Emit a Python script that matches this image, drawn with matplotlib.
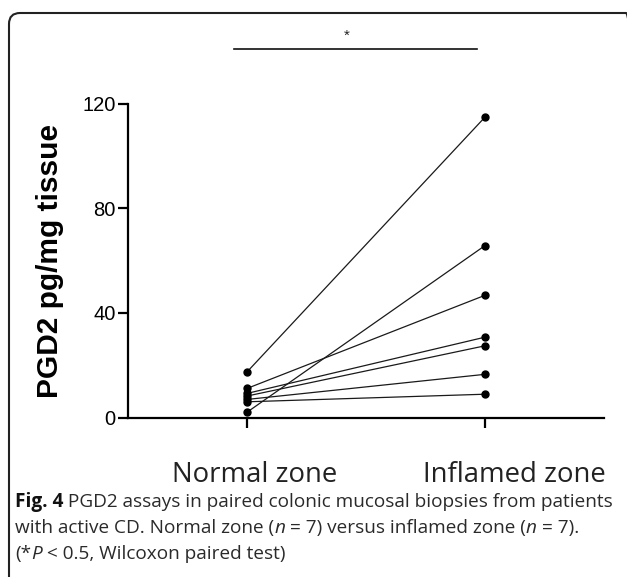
import numpy as np
import matplotlib
matplotlib.use('Agg')
import matplotlib.pyplot as plt
from matplotlib.patches import FancyBboxPatch
from matplotlib.transforms import IdentityTransform

# values (pg/mg tissue), one pair per patient
groups = ['Normal zone', 'Inflamed zone']
normal = [17.4, 11.1, 9.2, 8.2, 6.9, 6.0, 2.0]
inflamed = [114.8, 46.7, 30.7, 27.4, 16.5, 8.9, 65.7]
y_ticks = [0, 40, 80, 120]
y_label = 'PGD2 pg/mg tissue'
sig_mark = '*'

caption = [
    [('Fig. 4', 'bold', 'normal'),
     (' PGD2 assays in paired colonic mucosal biopsies from patients', 'normal', 'normal')],
    [('with active CD. Normal zone (', 'normal', 'normal'), ('n', 'normal', 'italic'),
     (' = 7) versus inflamed zone (', 'normal', 'normal'), ('n', 'normal', 'italic'),
     (' = 7).', 'normal', 'normal')],
    [('(*', 'normal', 'normal'), ('P', 'normal', 'italic'),
     (' < 0.5, Wilcoxon paired test)', 'normal', 'normal')],
]

W, H = 627, 577
fig = plt.figure(figsize=(W / 100, H / 100), dpi=100)

def fx(x):
    return x / W

def fy(y):
    return 1 - y / H

# rounded frame round the whole figure
frame = FancyBboxPatch((9, -40), 628, H + 40 - 13, boxstyle='round,pad=0,rounding_size=11',
                       transform=IdentityTransform(), fill=False, ec='#222222', lw=1.5)
fig.patches.append(frame)

ax = fig.add_axes([fx(128), fy(417.5), fx(604) - fx(128), fy(103.5) - fy(417.5)])
x = np.arange(len(groups))
for a, b in zip(normal, inflamed):
    ax.plot(x, [a, b], color='#1a1a1a', lw=0.9, marker='o', ms=5, mfc='black', mec='black',
            clip_on=False)

ax.set_xlim(-0.5, 1.5)
ax.set_ylim(0, 120)
ax.set_yticks(y_ticks)
ax.set_xticks(x)
ax.set_xticklabels([])
for s in ['top', 'right']:
    ax.spines[s].set_visible(False)
for s in ['left', 'bottom']:
    ax.spines[s].set_linewidth(1.6)
ax.tick_params(axis='both', length=7, width=1.6, color='black')
ax.tick_params(axis='y', labelsize=14.5, pad=2)
for lab in ax.get_yticklabels():
    lab.set_family('Liberation Sans')

ax.set_ylabel(y_label, fontsize=21.5, fontweight='bold', family='Liberation Sans')
ax.yaxis.set_label_coords(-0.135, 0.5)

# significance bar
ax.plot([-0.055, 0.966], [140.7, 140.7], color='#111111', lw=1.2, clip_on=False)
ax.text(0.42, 146.0, sig_mark, ha='center', va='center', fontsize=11, color='#222222',
        family='Liberation Sans')

# group labels under the axis
label_dx = [8, 29]
for i, g in enumerate(groups):
    xd = ax.transData.transform((i, 0))[0] + label_dx[i]
    fig.text(fx(xd), fy(482), g, ha='center', va='baseline', fontsize=19.8,
             family='Open Sans', color='#222222')

# caption, run by run
renderer = fig.canvas.get_renderer()
baselines = [507, 533, 559]
for line, yb in zip(caption, baselines):
    xp = 15
    for txt, wt, st in line:
        t = fig.text(fx(xp), fy(yb), txt, ha='left', va='baseline', fontsize=13.7,
                     family='Open Sans', fontweight=wt, style=st,
                     color='#111111' if wt == 'bold' else '#2a2a2a')
        xp += t.get_window_extent(renderer).width

fig.savefig('out.png', dpi=100)
